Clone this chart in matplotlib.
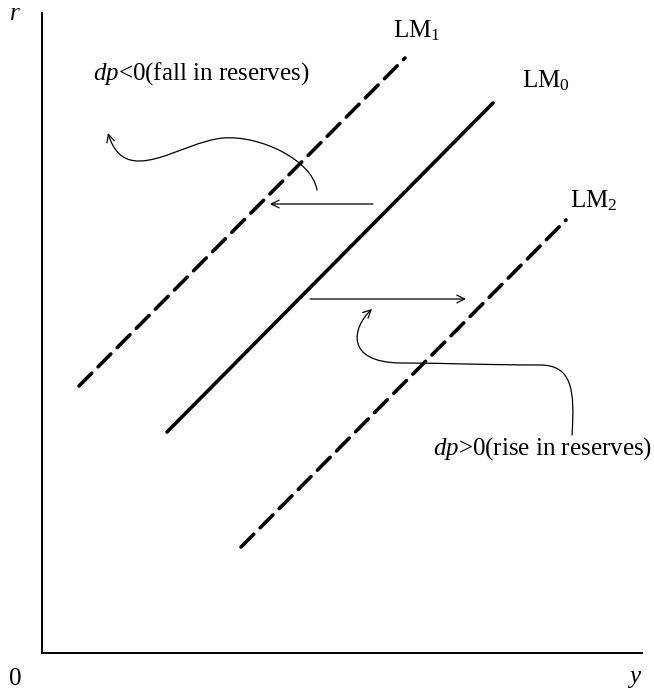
import matplotlib
matplotlib.use("Agg")
import matplotlib.pyplot as plt
from matplotlib.patches import FancyArrowPatch
from matplotlib.path import Path

plt.rcParams['font.family'] = ['Liberation Serif', 'DejaVu Serif']
plt.rcParams['mathtext.fontset'] = 'custom'
plt.rcParams['mathtext.rm'] = 'Liberation Serif'
plt.rcParams['mathtext.it'] = 'Liberation Serif:italic'
plt.rcParams['lines.scale_dashes'] = False

# ---- data (diagram coordinates, origin at the axes corner) ----
lm0_x = [125, 451]
lm0_y = [221, 550]
lm1_x = [37, 363]
lm1_y = [267, 595]
lm2_x = [199, 524]
lm2_y = [106, 433]

shift_left_x = [331, 228]
shift_left_y = [449, 449]
shift_right_x = [268, 424]
shift_right_y = [354, 354]

fall_curve_x = [275, 270, 218, 181, 138, 83, 66]
fall_curve_y = [463, 493, 518, 515, 511, 463, 520]
rise_curve_x = [530, 533, 530, 498, 448, 398, 358, 303, 310, 330]
rise_curve_y = [218, 263, 288, 288, 288, 290, 290, 291, 325, 344]

labels = ['LM$_1$', 'LM$_0$', 'LM$_2$']

fig = plt.figure(figsize=(6.54, 6.91), dpi=100)
ax = fig.add_axes([42/654, 38/691, 600/654, 640/691])
ax.set_xlim(0, 600)
ax.set_ylim(0, 640)
for s in ['top', 'right']:
    ax.spines[s].set_visible(False)
for s in ['left', 'bottom']:
    ax.spines[s].set_linewidth(1.4)
ax.set_xticks([])
ax.set_yticks([])

ax.plot(lm0_x, lm0_y, color='black', lw=2.6, solid_capstyle='round')
ax.plot(lm1_x, lm1_y, color='black', lw=2.6, dashes=(13, 6.5), dash_capstyle='round')
ax.plot(lm2_x, lm2_y, color='black', lw=2.6, dashes=(13, 6.5), dash_capstyle='round')

ax.annotate('', xy=(shift_left_x[1], shift_left_y[1]), xytext=(shift_left_x[0], shift_left_y[0]),
            arrowprops=dict(arrowstyle='->', lw=0.9, color='black', mutation_scale=14,
                            shrinkA=0, shrinkB=0))
ax.annotate('', xy=(shift_right_x[1], shift_right_y[1]), xytext=(shift_right_x[0], shift_right_y[0]),
            arrowprops=dict(arrowstyle='->', lw=0.9, color='black', mutation_scale=14,
                            shrinkA=0, shrinkB=0))

def curve_arrow(xs, ys):
    verts = list(zip(xs, ys))
    codes = [Path.MOVETO] + [Path.CURVE4] * (len(verts) - 1)
    p = Path(verts, codes)
    a = FancyArrowPatch(path=p, arrowstyle='->', lw=0.9, color='black',
                        mutation_scale=14, transform=ax.transData, clip_on=False)
    ax.add_patch(a)

curve_arrow(fall_curve_x, fall_curve_y)
curve_arrow(rise_curve_x, rise_curve_y)

fs = 18
ax.text(351, 616, labels[0], fontsize=fs, ha='left', va='baseline', clip_on=False)
ax.text(480, 566, labels[1], fontsize=fs, ha='left', va='baseline', clip_on=False)
ax.text(528, 446, labels[2], fontsize=fs, ha='left', va='baseline', clip_on=False)
ax.text(51, 573, r'$dp$<0(fall in reserves)', fontsize=fs, ha='left', va='baseline', clip_on=False)
ax.text(391, 198, r'$dp$>0(rise in reserves)', fontsize=fs, ha='left', va='baseline', clip_on=False)
ax.text(-27, 633, r'$r$', fontsize=fs, ha='center', va='baseline', clip_on=False)
ax.text(-27, -32, '0', fontsize=fs, ha='center', va='baseline', clip_on=False)
ax.text(593, -30, r'$y$', fontsize=fs, ha='center', va='baseline', clip_on=False)

fig.savefig('out.png', dpi=100)
